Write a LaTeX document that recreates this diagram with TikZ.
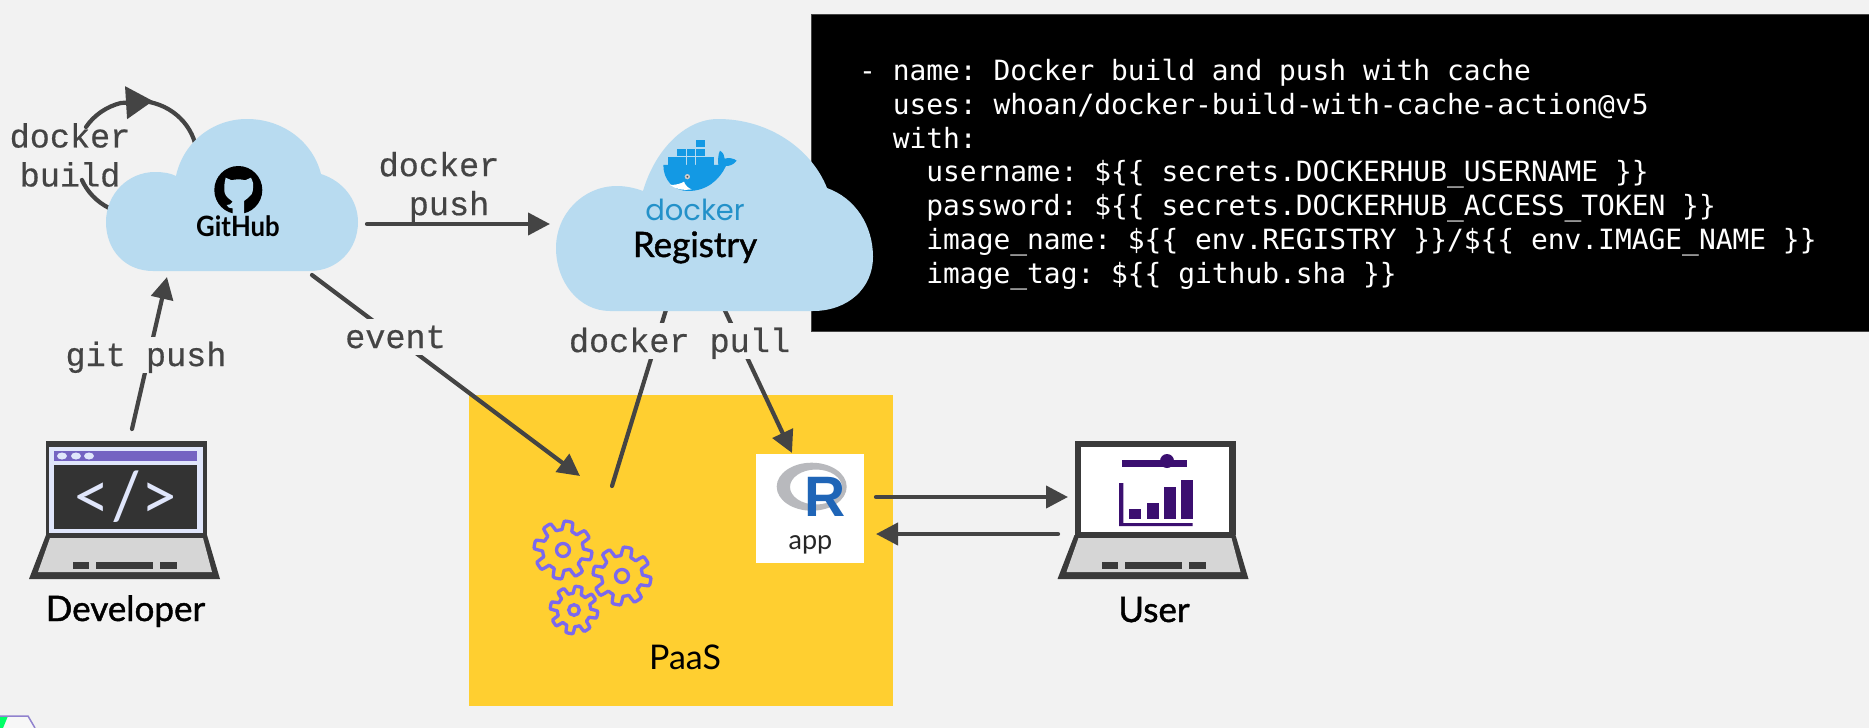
\documentclass[tikz,border=0pt]{standalone}
\usepackage{fontspec}
\setmainfont{Lato}
\newfontfamily\labelfont{Liberation Mono}[FakeBold=0.5]
\newfontfamily\actorfont{Lato}[FakeBold=1.2]
\newfontfamily\codefont{DejaVu Sans Mono}
\newfontfamily\logofont{Poppins}
\newfontfamily\rfont{Liberation Sans}
\usetikzlibrary{arrows.meta}
\definecolor{slide}{HTML}{F2F2F2}
\definecolor{cloudblue}{HTML}{B8DBF0}
\definecolor{paasyellow}{HTML}{FFCF30}
\definecolor{flowgrey}{HTML}{444444}
\definecolor{laptopdark}{HTML}{3A3A3A}
\definecolor{laptopgrey}{HTML}{D6D6D6}
\definecolor{screendark}{HTML}{333333}
\definecolor{screenlight}{HTML}{E0E6FB}
\definecolor{barpurple}{HTML}{7463C2}
\definecolor{chartpurple}{HTML}{3B0F70}
\definecolor{gearpurple}{HTML}{7B68EE}
\definecolor{whaleblue}{HTML}{1399E4}
\definecolor{dockerblue}{HTML}{2391C9}
\definecolor{rblue}{HTML}{1F65B7}
\definecolor{rgrey}{HTML}{B8B9BD}

\begin{document}
\begin{tikzpicture}[x=1pt,y=-1pt,
   flow/.style={draw=flowgrey,line width=4.2pt,line cap=round,-{Triangle[length=22pt,width=22pt]}},
   flowplain/.style={draw=flowgrey,line width=4.2pt,line cap=round},
   flowlabel/.style={text=flowgrey,font=\labelfont\fontsize{33.5}{39}\selectfont,align=center,inner sep=0pt},
   flowgap/.style={flowlabel,anchor=base,fill=slide,inner sep=3pt,text height=26pt,text depth=4pt},
   cloudfill/.style={fill=cloudblue},
   actor/.style={font=\actorfont\fontsize{35}{39}\selectfont,anchor=base,inner sep=0pt},
   gearline/.style={draw=gearpurple,line width=3.3pt},
   laptop/.pic={
     \fill[laptopdark] (46,441) rectangle (207,535);
     \fill[laptopdark] (46,535) -- (29,579) -- (220,579) -- (207,535) -- cycle;
     \fill[laptopgrey] (50,538) -- (203,538) -- (212,572) -- (38,572) -- cycle;
     \foreach \keyl/\keyr in {73/89,96/153,160/177}
       \fill[laptopdark] (\keyl,562) rectangle (\keyr,569);
   },
   gear/.pic={
     \draw[gearline] plot[domain=0:360,samples=145,smooth,variable=\t]
       ({29*(0.85+0.15*max(-1,min(1,2.5*sin(8*\t))))*cos(\t)},
        {29*(0.85+0.15*max(-1,min(1,2.5*sin(8*\t))))*sin(\t)}) -- cycle;
     \draw[gearline] (0,0) circle[radius=6.5];
   }]
\useasboundingbox (0,0) rectangle (1869,728);
\fill[slide] (0,0) rectangle (1869,728);

\node[fill=black,draw=flowgrey,line width=.6pt,anchor=north west,inner sep=0pt,
      minimum width=1060,minimum height=317] (codebox) at (811,14) {};
\node[text=white,anchor=north west,inner sep=0pt,align=left,
      font=\codefont\frenchspacing\fontsize{27.9}{33.8}\selectfont] (codetext) at (859,59) {%
- name: Docker build and push with cache\\
~~uses: whoan/docker-build-with-cache-action@v5\\
~~with:\\
~~~~username: \$\{\{ secrets.DOCKERHUB\_USERNAME \}\}\\
~~~~password: \$\{\{ secrets.DOCKERHUB\_ACCESS\_TOKEN \}\}\\
~~~~image\_name: \$\{\{ env.REGISTRY \}\}/\$\{\{ env.IMAGE\_NAME \}\}\\
~~~~image\_tag: \$\{\{ github.sha \}\}};

\node[fill=paasyellow,anchor=north west,inner sep=0pt,minimum width=424,minimum height=311] (paas) at (469,395) {};
\node[anchor=base,inner sep=0pt,font=\fontsize{34}{39}\selectfont] (paaslabel) at (685,669) {PaaS};
\node[fill=white,anchor=north west,inner sep=0pt,minimum width=108,minimum height=109] (app) at (756,454) {};
\fill[rgrey,even odd rule] (811.7,486.7) ellipse[x radius=35pt,y radius=24pt]
                           (816,487) ellipse[x radius=26pt,y radius=17.5pt];
\node[text=rblue,anchor=base,inner sep=0pt,font=\rfont\bfseries\fontsize{57}{57}\selectfont] (rletter) at (825,516) {R};
\node[anchor=base,inner sep=0pt,text=black!85,font=\fontsize{27}{30}\selectfont] (applabel) at (810.5,549) {app};

\pic (gearA) at (563,550) {gear};
\pic (gearB) at (622,576) {gear};
\pic[scale=.82] (gearC) at (574,610) {gear};

\coordinate (loopa) at (109,208);
\coordinate (loopb) at (86,127);
\coordinate (looptip) at (153,101);
\coordinate (loopc) at (149.5,102);
\draw[flowplain] (loopa) arc[start angle=242,end angle=203,x radius=60pt,y radius=57pt];
\draw[flow,-{Triangle[length=27pt,width=32pt]}] (loopb) arc[start angle=147,end angle=105,x radius=60pt,y radius=57pt] -- (looptip);
\draw[flowplain] (loopc) arc[start angle=78,end angle=0,x radius=60pt,y radius=57pt];
\node[flowlabel] (buildlabel) at (70,155) {docker\\build};

\coordinate (devtop) at (132,429);
\coordinate (githubfoot) at (167,277);
\draw[flow] (devtop) -- (githubfoot);
\node[flowgap] (gitlabel) at (146,366) {git push};

\coordinate (pushstart) at (367,224);
\coordinate (pushend) at (550,224);
\draw[flow] (pushstart) -- (pushend);
\node[flowlabel] (pushlabel) at (439,187) {docker\\~push};

\coordinate (eventstart) at (312,275);
\coordinate (eventend) at (580,476);
\draw[flow] (eventstart) -- (eventend);
\node[flowgap] (eventlabel) at (395.5,348) {event};

\coordinate (pullleft) at (669,300);
\coordinate (buildend) at (612,486);
\coordinate (pullright) at (720,300);
\coordinate (appentry) at (792,453);
\draw[flowplain] (pullleft) -- (buildend);
\draw[flow] (pullright) -- (appentry);
\node[flowgap] (pulllabel) at (679.5,352) {docker pull};

\coordinate (appright) at (876,497);
\coordinate (userleft) at (1068,497);
\coordinate (userright) at (1058,534);
\coordinate (appreturn) at (876,534);
\draw[flow] (appright) -- (userleft);
\draw[flow] (userright) -- (appreturn);

\fill[cloudfill] (153,271) .. controls (125,271) and (106,250) .. (106,222)
  .. controls (106,194) and (128,172) .. (155,172)
  .. controls (163,172) and (170,173) .. (176,176)
  .. controls (183,143) and (212,119) .. (247,119)
  .. controls (283,119) and (313,142) .. (321,174)
  .. controls (343,181) and (358,200) .. (358,222)
  .. controls (358,250) and (337,271) .. (310,271) -- cycle;
\fill[black] (238.3,190) circle[radius=24];
\fill[cloudfill] (225.7,177.7) -- (231.7,180.3) .. controls (236,179) and (241,179) .. (245,180.3)
  -- (251,177.7) .. controls (253,182) and (254,185) .. (253,188.3)
  .. controls (253,193) and (251,196) .. (248.3,197.7) -- (244,201) -- (244,215) -- (232.7,215)
  -- (232.7,208.3) .. controls (229,208) and (227,207) .. (226.7,205)
  .. controls (229,205.5) and (231,204) .. (232.7,201.7)
  -- (227.7,197.7) .. controls (225,195) and (224,192) .. (224.3,188.3)
  .. controls (224,185) and (225,181) .. (225.7,177.7) -- cycle;
\node[anchor=base,inner sep=0pt,xscale=.92,font=\bfseries\fontsize{28}{30}\selectfont] (github) at (238,236) {GitHub};

\fill[cloudfill] (610,311) .. controls (579,311) and (556,282) .. (556,248)
  .. controls (556,214) and (583,186) .. (617,186)
  .. controls (626,186) and (635,188) .. (643,191)
  .. controls (655,150) and (685,119) .. (718,119)
  .. controls (770,119) and (812,150) .. (827,188)
  .. controls (855,198) and (873,225) .. (873,257)
  .. controls (873,288) and (848,311) .. (813,311) -- cycle;
\begin{scope}[shift={(650pt,-130pt)},x=.3333pt,y=-.3333pt]
  \foreach \boxx/\boxy in {54/82,82/82,110/82,138/82,166/82,82/56,110/56,138/56,138/30}
    \fill[whaleblue] (\boxx,\boxy) rectangle +(26,22);
  \fill[whaleblue] (40,105) -- (205,105) .. controls (203,90) and (205,70) .. (210,62)
    .. controls (220,68) and (224,78) .. (224,86) .. controls (236,82) and (252,85) .. (260,92)
    .. controls (250,105) and (238,108) .. (228,108)
    .. controls (208,150) and (170,183) .. (115,183)
    .. controls (70,183) and (40,150) .. (40,105) -- cycle;
  \fill[white] (60,165) .. controls (80,165) and (95,160) .. (102,155)
    .. controls (105,165) and (115,175) .. (125,178) .. controls (100,182) and (78,178) .. (60,165) -- cycle;
  \fill[white!80!black] (112,140) circle[radius=8];
  \fill[black!70] (112,140) circle[radius=3];
\end{scope}
\node[text=dockerblue,anchor=base,inner sep=0pt,font=\logofont\fontsize{29}{30}\selectfont] (docker) at (695,220.7) {docker};
\node[actor] (registry) at (695,257) {Registry};

\pic (devlaptop) at (0,0) {laptop};
\fill[screenlight] (49,447) rectangle (203,533);
\fill[barpurple] (54,451) rectangle (197,461);
\fill[screendark] (54,465) rectangle (197,529);
\foreach \dotx in {62,76,89}
  \fill[screenlight] (\dotx,456) ellipse[x radius=5pt,y radius=3.5pt];
\node[text=screenlight,inner sep=0pt,font=\fontsize{66}{66}\selectfont] (codemark) at (126,497) {</>};
\node[actor] (developer) at (125.5,621) {Developer};

\pic (userlaptop) at (1028.5,0) {laptop};
\fill[white] (1081,447) rectangle (1229,532);
\fill[chartpurple] (1122,460) rectangle (1187,467);
\fill[chartpurple] (1167,461) circle[radius=7];
\fill[chartpurple] (1119,483) -- (1123.3,483) -- (1123.3,523) -- (1192.7,523) -- (1192.7,526) -- (1119,526) -- cycle;
\foreach \barl/\bart in {1129/509,1146.7/503,1164/487,1181/480}
  \fill[chartpurple] (\barl,\bart) rectangle +(11.8,{519-\bart});
\node[actor] (user) at (1154,622) {User};

\fill[white!97!black] (8,716) -- (28,716) -- (35,728) -- (3,728) -- cycle;
\fill[green!60!cyan] (0,716) -- (8,716) -- (3,728) -- (0,728) -- cycle;
\draw[barpurple!80,line width=1.5pt] (0,716) -- (28,716) -- (35,728);
\end{tikzpicture}
\end{document}
